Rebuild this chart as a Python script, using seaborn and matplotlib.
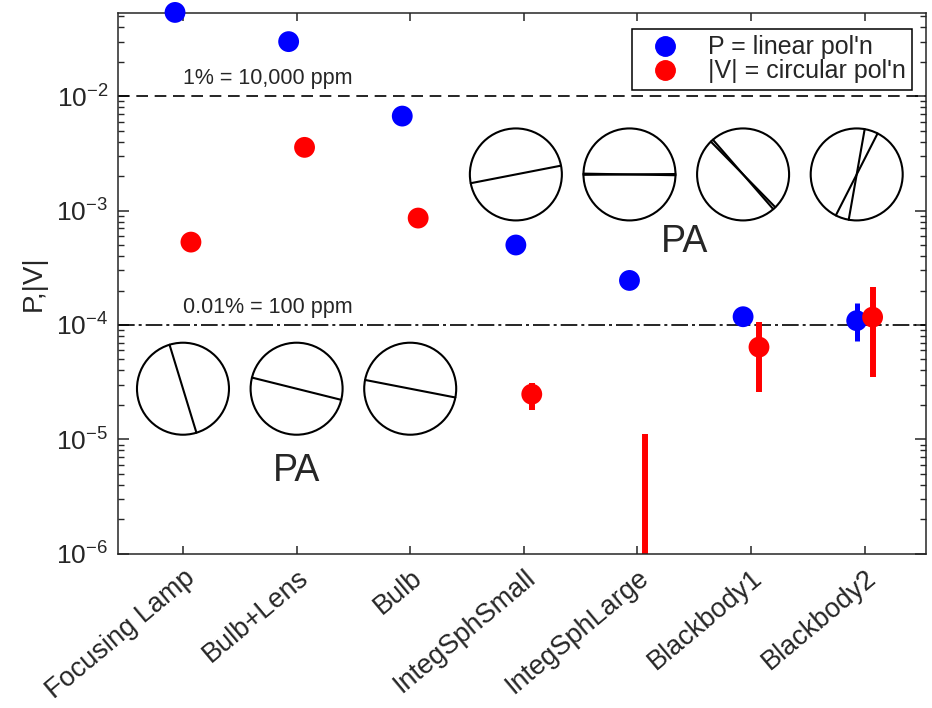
import numpy as np
import pandas as pd
import matplotlib
matplotlib.use("Agg")
import matplotlib.pyplot as plt
import seaborn as sns
from matplotlib.patches import Circle
from matplotlib.lines import Line2D
from matplotlib.transforms import ScaledTranslation

# data
categories = ["Focusing Lamp", "Bulb+Lens", "Bulb", "IntegSphSmall",
              "IntegSphLarge", "Blackbody1", "Blackbody2"]
lin_pol = [5.4e-2, 3.0e-2, 6.7e-3, 5.0e-4, 2.45e-4, 1.18e-4, 1.09e-4]
lin_lo = [np.nan, np.nan, np.nan, np.nan, np.nan, np.nan, 7.3e-5]
lin_hi = [np.nan, np.nan, np.nan, np.nan, np.nan, np.nan, 1.54e-4]
circ_pol = [5.3e-4, 3.57e-3, 8.6e-4, 2.48e-5, np.nan, 6.4e-5, 1.17e-4]
circ_lo = [np.nan, np.nan, np.nan, 1.81e-5, 1e-7, 2.57e-5, 3.52e-5]
circ_hi = [np.nan, np.nan, np.nan, 3.1e-5, 1.11e-5, 1.07e-4, 2.13e-4]

# position angles (deg from horizontal) drawn in the little circles
pa_top_idx = [3, 4, 5, 6]
pa_top = [[11], [0.5, -1], [-45.5, -49], [63, 80]]
pa_top_y = 2.07e-3
pa_bot_idx = [0, 1, 2]
pa_bot = [[-73], [-14], [-11]]
pa_bot_y = 2.77e-5

BLUE = "#0000FF"
RED = "#FF0000"
off = 0.07

sns.set_style("white")
plt.rcParams["font.family"] = ["Liberation Sans", "DejaVu Sans"]
plt.rcParams["mathtext.fontset"] = "custom"
plt.rcParams["mathtext.rm"] = "Liberation Sans"
plt.rcParams["mathtext.it"] = "Liberation Sans:italic"
plt.rcParams["mathtext.bf"] = "Liberation Sans:bold"
plt.rcParams["axes.unicode_minus"] = False

fig = plt.figure(figsize=(9.32, 7.08), dpi=100)
ax = fig.add_axes([118 / 932, 1 - 553.7 / 708, 808 / 932, 541 / 708])
ax.set_yscale("log")
ax.set_xlim(0.428, 7.54)
ax.set_ylim(1e-6, 10 ** -1.27)

x = np.arange(1, len(categories) + 1)
df = pd.DataFrame({
    "pos": np.concatenate([x - off, x + off]),
    "val": lin_pol + circ_pol,
    "series": ["P"] * len(x) + ["V"] * len(x),
})

# error bars
ax.vlines(x - off, lin_lo, lin_hi, color=BLUE, lw=3.6, zorder=2)
ax.vlines(x + off, circ_lo, circ_hi, color=RED, lw=4.3, zorder=2)

sns.scatterplot(data=df, x="pos", y="val", hue="series",
                palette={"P": BLUE, "V": RED}, s=225, edgecolor="none",
                legend=False, ax=ax, zorder=3)
for c in ax.collections:
    if c.__class__.__name__ == "PathCollection":
        c.set_clip_on(False)

# reference lines
ax.axhline(1e-2, color="black", lw=1.2, ls=(0, (7, 4)), zorder=1)
ax.axhline(1e-4, color="black", lw=1.2, ls=(0, (10, 2.4, 1.8, 2.4)), zorder=1)
ax.text(1, 1.27e-2, "1% = 10,000 ppm", fontsize=15.5, ha="left", va="baseline")
ax.text(1, 1.26e-4, "0.01% = 100 ppm", fontsize=15.5, ha="left", va="baseline")

# PA circles
def pa_circle(xc, yc, angles):
    tr = fig.dpi_scale_trans + ScaledTranslation(xc, yc, ax.transData)
    r = 0.46
    ax.add_patch(Circle((0, 0), r, transform=tr, fill=False, ec="black", lw=1.5))
    for a in angles:
        t = np.deg2rad(a)
        ax.plot([-r * np.cos(t), r * np.cos(t)], [-r * np.sin(t), r * np.sin(t)],
                transform=tr, color="black", lw=1.5)

for i, angs in zip(pa_top_idx, pa_top):
    pa_circle(x[i] - off, pa_top_y, angs)
for i, angs in zip(pa_bot_idx, pa_bot):
    pa_circle(x[i], pa_bot_y, angs)
ax.text(5.415, 5.3e-4, "PA", fontsize=27, ha="center", va="center")
ax.text(2.0, 5.3e-6, "PA", fontsize=27, ha="center", va="center")

# axes styling
ax.set_xticks(x)
ax.set_xticklabels(categories, rotation=40, ha="right", rotation_mode="anchor",
                   fontsize=19.5, color="#262626")
ax.set_xlabel("")
ax.set_ylabel("P,|V|", fontsize=20, color="#262626")
ax.yaxis.set_label_coords(-0.088, 0.5)
ax.tick_params(axis="x", which="major", direction="in", length=6, width=1.1,
               top=True, bottom=True, pad=8, colors="#262626")
ax.tick_params(axis="y", which="major", direction="in", length=8, width=1.1,
               left=True, right=True, labelsize=19, pad=7, colors="#262626")
ax.tick_params(axis="y", which="minor", direction="in", length=4, width=1.0,
               left=True, right=True, colors="#262626")
ax.tick_params(axis="x", which="minor", bottom=False, top=False)
for s in ax.spines.values():
    s.set_visible(True)
    s.set_color("#262626")
    s.set_linewidth(1.1)

handles = [
    Line2D([], [], marker="o", ls="none", color=BLUE, markersize=14),
    Line2D([], [], marker="o", ls="none", color=RED, markersize=14),
]
leg = ax.legend(handles, ["P = linear pol'n", "|V| = circular pol'n"],
                loc="upper right", bbox_to_anchor=(912 / 932, 1 - 29 / 708),
                bbox_transform=fig.transFigure, borderaxespad=0, fontsize=18,
                frameon=True, fancybox=False, framealpha=1, edgecolor="black",
                handletextpad=0.6, labelspacing=0.0, borderpad=0.25,
                handlelength=2.2)
leg.get_frame().set_linewidth(1.1)

fig.savefig("out.png", dpi=100)
